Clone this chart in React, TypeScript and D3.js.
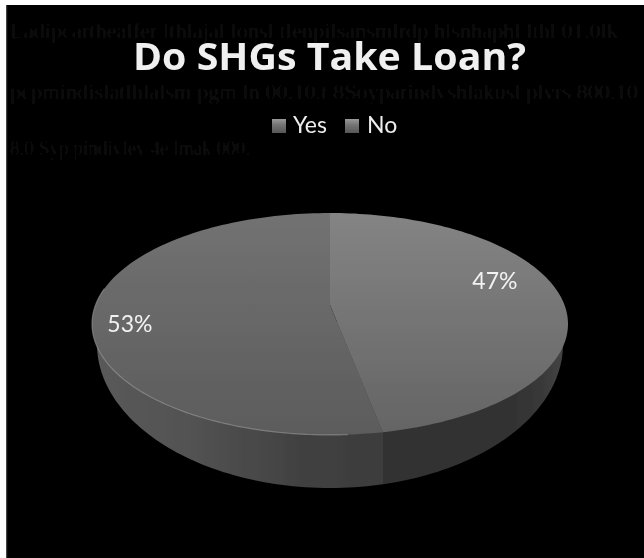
import React from "react";
import * as d3 from "d3";

const categories = ["Yes", "No"];
const shares = [47, 53];
const titleText = "Do SHGs Take Loan?";
const faintLines = [
  "Ladipcarthealfer lthlajal lonsl tlenpilsansmlrdp hlsnhaphl lthl 01.0lk",
  "pcpmindislatlhlalsm pgm ln 00.10.t 8Soyparindvshlakusl plvrs 800.10",
  "8.0 Syp pindivlev 4e lmak 000.",
];

const WIDTH = 644;
const HEIGHT = 558;

// Top face: a circle seen in perspective, expressed as a projective map about the hub.
const hub = { x: 330, y: 305 };
const persp = { d: 234.5, a: 107.7, c: -0.171 };
const project = (angle: number, r = 1) => {
  const u = Math.sin(angle) * r;
  const v = -Math.cos(angle) * r;
  const w = 1 + persp.c * v;
  return [hub.x + (persp.d * u) / w, hub.y + (persp.a * v) / w] as [number, number];
};

// Lower rim of the disc.
const base = { x: 330, y: 344, rx: 233, ry: 144 };

const pie = d3.pie<number>().sort(null).value((d) => d);
const arcs = pie(shares);
const line = d3.line();

const sweep = (a0: number, a1: number) =>
  d3.range(0, 121).map((i) => project(a0 + ((a1 - a0) * i) / 120));

const slicePath = (a0: number, a1: number) =>
  line([[hub.x, hub.y], ...sweep(a0, a1)])! + "Z";

const wallPath = () => {
  const lower = d3.range(0, 121).map((i) => {
    const t = -0.02 + (Math.PI + 0.04) * (i / 120);
    return [base.x + base.rx * Math.cos(t), base.y + base.ry * Math.sin(t)] as [number, number];
  });
  return line([[568, 322], ...lower, [92, 322]])! + "Z";
};

const seamX = project(arcs[0].endAngle)[0];
const wallX = d3.scaleLinear().domain([92, 568]).range([0, 1]);

// Per-slice label placement relative to the slice's middle angle.
const labelPlacement = [
  { turn: -0.213, r: 0.767 },
  { turn: -0.11, r: 0.846 },
];

const faceStops = [
  ["#848484", "#646464"],
  ["#727272", "#5c5c5c"],
];

export default function App() {
  return (
    <svg
      width={WIDTH}
      height={HEIGHT}
      style={{ position: "absolute", left: 0, top: 0, background: "#fff" }}
    >
      <defs>
        <filter id="soft" x="-5%" y="-20%" width="110%" height="140%">
          <feGaussianBlur stdDeviation="0.8" />
        </filter>
        <filter id="softer" x="-5%" y="-5%" width="110%" height="110%">
          <feGaussianBlur stdDeviation="0.5" />
        </filter>
        {arcs.map((_, i) => (
          <linearGradient key={i} id={`face${i}`} gradientUnits="userSpaceOnUse" x1="0" x2="0" y1="213" y2="435">
            <stop offset="0" stopColor={faceStops[i][0]} />
            <stop offset="1" stopColor={faceStops[i][1]} />
          </linearGradient>
        ))}
        <linearGradient id="wall" gradientUnits="userSpaceOnUse" x1="92" x2="568" y1="0" y2="0">
          <stop offset={wallX(92)} stopColor="#5a5a5a" />
          <stop offset={wallX(200)} stopColor="#515151" />
          <stop offset={wallX(300)} stopColor="#414141" />
          <stop offset={wallX(seamX)} stopColor="#3c3c3c" />
          <stop offset={wallX(seamX)} stopColor="#333333" />
          <stop offset={wallX(500)} stopColor="#303030" />
          <stop offset={wallX(540)} stopColor="#383838" />
          <stop offset={wallX(568)} stopColor="#464646" />
        </linearGradient>
        <linearGradient id="swatch" x1="0" x2="0" y1="0" y2="1">
          <stop offset="0" stopColor="#9a9a9a" />
          <stop offset="0.4" stopColor="#767676" />
          <stop offset="1" stopColor="#565656" />
        </linearGradient>
      </defs>

      {/* Frame */}
      <rect x={6} y={5} width={WIDTH - 6} height={HEIGHT - 5} fill="#000" />
      <rect x={6} y={5} width={1.2} height={HEIGHT - 5} fill="#444" />

      {/* Faint show-through lines behind the chart */}
      <g
        fontFamily="'Liberation Serif', serif"
        fontSize={22}
        fill="#121212"
        filter="url(#soft)"
      >
        <text x={10} y={38} textLength={608} lengthAdjust="spacingAndGlyphs">{faintLines[0]}</text>
        <text x={10} y={99} textLength={628} lengthAdjust="spacingAndGlyphs">{faintLines[1]}</text>
        <text x={10} y={155} textLength={240} lengthAdjust="spacingAndGlyphs">{faintLines[2]}</text>
      </g>

      {/* Title */}
      <text
        x={133}
        y={70}
        fontFamily="'Open Sans', sans-serif"
        fontWeight={700}
        fontSize={37}
        fill="#f0f0f0"
        textLength={393}
        lengthAdjust="spacingAndGlyphs"
        filter="url(#softer)"
      >
        {titleText}
      </text>

      {/* Legend */}
      <g fontFamily="Lato, sans-serif" fontSize={23} fill="#ededed" filter="url(#softer)">
        <rect x={272} y={119} width={14} height={14} fill="url(#swatch)" />
        <text x={293} y={133}>{categories[0]}</text>
        <rect x={345} y={119} width={14} height={14} fill="url(#swatch)" />
        <text x={367} y={133}>{categories[1]}</text>
      </g>

      {/* Disc */}
      <g filter="url(#softer)">
        <path d={wallPath()} fill="url(#wall)" />
        {arcs.map((a, i) => (
          <path key={i} d={slicePath(a.startAngle, a.endAngle)} fill={`url(#face${i})`} />
        ))}
        <path
          d={line(sweep(Math.PI * 0.98, Math.PI * 1.55))!}
          fill="none"
          stroke="#a0a0a0"
          strokeOpacity={0.55}
          strokeWidth={1.2}
        />
      </g>

      {/* Value labels */}
      <g fontFamily="Lato, sans-serif" fontSize={23} fill="#f2f2f2" textAnchor="middle" filter="url(#softer)">
        {arcs.map((a, i) => {
          const mid = (a.startAngle + a.endAngle) / 2;
          const [x, y] = project(mid + labelPlacement[i].turn, labelPlacement[i].r);
          return (
            <text key={i} x={x} y={y} dy="0.36em">
              {shares[i]}%
            </text>
          );
        })}
      </g>
    </svg>
  );
}
